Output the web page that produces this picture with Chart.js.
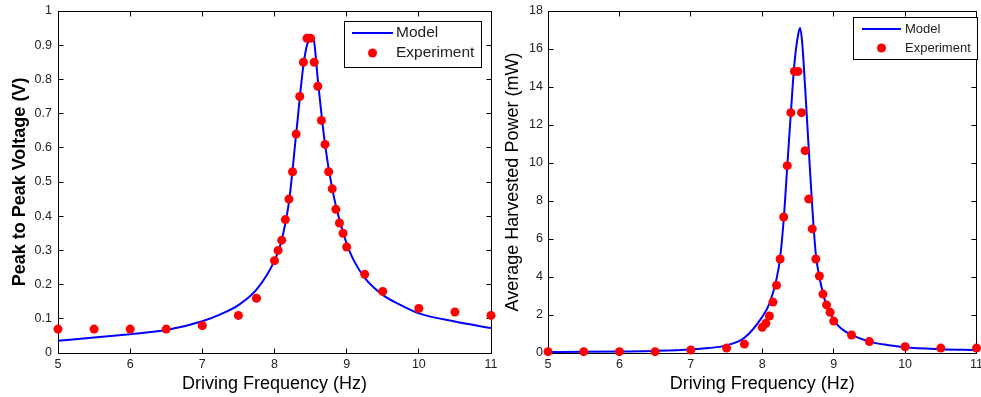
<!DOCTYPE html>
<html>
<head>
<meta charset="utf-8">
<script src="https://cdn.jsdelivr.net/npm/chart.js@4.4.1/dist/chart.umd.min.js"></script>
<style>
  html, body { margin: 0; padding: 0; background: #fff; }
  #wrap { position: relative; width: 981px; height: 397px; overflow: hidden; }
  canvas { position: absolute; top: 0; }
</style>
</head>
<body>
<div id="wrap">
  <canvas id="left" width="500" height="397" style="left:0"></canvas>
  <canvas id="right" width="485" height="397" style="left:496px"></canvas>
</div>
<script>
// --- data ---
const freqExp = [5, 5.5, 6, 6.5, 7, 7.5, 7.75, 8, 8.05, 8.1, 8.15, 8.2, 8.25, 8.3, 8.35, 8.4, 8.45, 8.5,
                 8.55, 8.6, 8.65, 8.7, 8.75, 8.8, 8.85, 8.9, 8.95, 9, 9.25, 9.5, 10, 10.5, 11];
const voltageExp = [0.07, 0.07, 0.07, 0.07, 0.08, 0.11, 0.16, 0.27, 0.30, 0.33, 0.39, 0.45, 0.53, 0.64, 0.75, 0.85, 0.92, 0.92,
                    0.85, 0.78, 0.68, 0.61, 0.53, 0.48, 0.42, 0.38, 0.35, 0.31, 0.23, 0.18, 0.13, 0.12, 0.11];
const powerExp = [0.07, 0.07, 0.07, 0.07, 0.16, 0.26, 0.47, 1.35, 1.56, 1.95, 2.68, 3.56, 4.95, 7.16, 9.86, 12.65, 14.82, 14.82,
                  12.65, 10.65, 8.1, 6.53, 4.95, 4.05, 3.1, 2.53, 2.14, 1.68, 0.95, 0.6, 0.33, 0.26, 0.26];

const freqModelV = [5, 5.5, 6, 6.5, 7, 7.25, 7.5, 7.75, 8, 8.1, 8.2, 8.3, 8.4, 8.45, 8.5, 8.52, 8.55, 8.6,
                    8.7, 8.8, 8.9, 9, 9.1, 9.25, 9.5, 9.75, 10, 10.5, 11];
const voltageModel = [0.036, 0.045, 0.055, 0.067, 0.093, 0.113, 0.14, 0.185, 0.27, 0.33, 0.44, 0.64, 0.84, 0.90, 0.92, 0.925, 0.91, 0.80,
                      0.61, 0.48, 0.39, 0.32, 0.27, 0.22, 0.17, 0.14, 0.116, 0.092, 0.073];

const freqModelP = [5, 5.5, 6, 6.5, 7, 7.25, 7.5, 7.75, 8, 8.1, 8.2, 8.25, 8.3, 8.35, 8.4, 8.45, 8.5, 8.53,
                    8.56, 8.6, 8.65, 8.7, 8.75, 8.8, 8.9, 9, 9.1, 9.25, 9.5, 9.75, 10, 10.5, 11];
const powerModel = [0.05, 0.06, 0.08, 0.11, 0.18, 0.26, 0.4, 0.8, 1.9, 2.6, 3.9, 5.0, 7.0, 9.8, 12.6, 15.2, 16.7, 17.1,
                    16.3, 14.0, 10.8, 7.7, 5.2, 4.0, 2.5, 1.75, 1.3, 0.95, 0.6, 0.42, 0.3, 0.2, 0.15];

const xTicks = [5, 6, 7, 8, 9, 10, 11];

const FONT = "'Liberation Sans', Arial, Helvetica, sans-serif";

function pairs(xs, ys) {
    return xs.map((x, i) => ({ x: x, y: ys[i] }));
}

// MATLAB style box with inward ticks
const framePlugin = {
    id: 'frame',
    beforeDatasetsDraw(chart) {
        const { ctx, chartArea: a, scales: { x, y } } = chart;
        const L = Math.floor(a.left) + 0.5, R = Math.floor(a.right) + 0.5;
        const T = Math.floor(a.top) + 0.5, B = Math.floor(a.bottom) + 0.5;
        ctx.save();
        ctx.strokeStyle = '#000';
        ctx.lineWidth = 1;
        ctx.strokeRect(L, T, R - L, B - T);
        ctx.beginPath();
        x.ticks.forEach(t => {
            const px = Math.floor(x.getPixelForValue(t.value)) + 0.5;
            ctx.moveTo(px, B); ctx.lineTo(px, B - 5);
            ctx.moveTo(px, T); ctx.lineTo(px, T + 5);
        });
        y.ticks.forEach(t => {
            const py = Math.floor(y.getPixelForValue(t.value)) + 0.5;
            ctx.moveTo(L, py); ctx.lineTo(L + 5, py);
            ctx.moveTo(R, py); ctx.lineTo(R - 5, py);
        });
        ctx.stroke();
        ctx.restore();
    }
};

// legend box inside the axes
const boxLegend = {
    id: 'boxLegend',
    afterDraw(chart, args, o) {
        const ctx = chart.ctx;
        ctx.save();
        ctx.fillStyle = '#fff';
        ctx.fillRect(o.x, o.y, o.w, o.h);
        ctx.strokeStyle = '#000';
        ctx.lineWidth = 1;
        ctx.strokeRect(o.x + 0.5, o.y + 0.5, o.w, o.h);
        ctx.strokeStyle = '#0000ff';
        ctx.lineWidth = 2;
        ctx.beginPath();
        ctx.moveTo(o.lineX0, o.row1);
        ctx.lineTo(o.lineX1, o.row1);
        ctx.stroke();
        ctx.fillStyle = '#ff0000';
        ctx.beginPath();
        ctx.arc((o.lineX0 + o.lineX1) / 2, o.row2, 4.5, 0, Math.PI * 2);
        ctx.fill();
        ctx.fillStyle = '#222';
        ctx.font = o.fontSize + 'px ' + FONT;
        ctx.textBaseline = 'middle';
        ctx.textAlign = 'left';
        ctx.fillText('Model', o.textX, o.row1);
        ctx.fillText('Experiment', o.textX, o.row2);
        ctx.restore();
    }
};

function makeChart(id, cfg) {
    const canvas = document.getElementById(id);
    return new Chart(canvas.getContext('2d'), {
        type: 'line',
        data: {
            datasets: [{
                label: 'Model',
                data: pairs(cfg.modelX, cfg.modelY),
                borderColor: '#0000ff',
                borderWidth: 2,
                pointRadius: 0,
                cubicInterpolationMode: 'monotone',
                fill: false,
                order: 2
            }, {
                label: 'Experiment',
                data: pairs(freqExp, cfg.expY),
                showLine: false,
                pointRadius: 4.5,
                pointBackgroundColor: '#ff0000',
                pointBorderColor: '#ff0000',
                pointBorderWidth: 0,
                clip: false,
                order: 1
            }]
        },
        options: {
            responsive: false,
            animation: false,
            events: [],
            layout: { padding: { top: 11, right: cfg.padRight, bottom: 0, left: 0 } },
            plugins: {
                legend: { display: false },
                tooltip: { enabled: false },
                boxLegend: cfg.legend
            },
            scales: {
                x: {
                    type: 'linear',
                    min: 5, max: 11,
                    afterBuildTicks: s => { s.ticks = xTicks.map(v => ({ value: v })); },
                    afterFit: s => { s.height = 44; s.paddingLeft = 0; s.paddingRight = 0; },
                    grid: { display: false, drawTicks: false },
                    border: { display: false },
                    ticks: { padding: 4, color: '#222', font: { family: FONT, size: 12.5 }, maxRotation: 0, autoSkip: false },
                    title: { display: true, text: 'Driving Frequency (Hz)', color: '#000',
                             font: { family: FONT, size: 18 }, padding: { top: 0, bottom: 2 } }
                },
                y: {
                    min: 0, max: cfg.yMax,
                    ticks: { stepSize: cfg.yStep, padding: cfg.tickPad, color: '#222',
                             font: { family: FONT, size: 12.5 }, autoSkip: false,
                             callback: v => String(Math.round(v * 10) / 10) },
                    afterFit: s => { s.width = cfg.yWidth; s.paddingTop = 0; s.paddingBottom = 0; },
                    grid: { display: false, drawTicks: false },
                    border: { display: false },
                    title: { display: true, text: cfg.yTitle, color: '#000',
                             font: { family: FONT, size: 18, weight: cfg.yBold ? 'bold' : 'normal' },
                             padding: { top: cfg.titlePad, bottom: 0 } }
                }
            }
        },
        plugins: [framePlugin, boxLegend]
    });
}

makeChart('left', {
    modelX: freqModelV, modelY: voltageModel, expY: voltageExp,
    yMax: 1, yStep: 0.1, yWidth: 58, padRight: 9, tickPad: 6, titlePad: 9, yBold: true,
    yTitle: 'Peak to Peak Voltage (V)',
    legend: { x: 344, y: 21, w: 137, h: 46, lineX0: 352, lineX1: 393, textX: 396, row1: 33, row2: 53, fontSize: 15.5 }
});

makeChart('right', {
    modelX: freqModelP, modelY: powerModel, expY: powerExp,
    yMax: 18, yStep: 2, yWidth: 52, padRight: 1, tickPad: 5, titlePad: 6, yBold: false,
    yTitle: 'Average Harvested Power (mW)',
    legend: { x: 357, y: 17, w: 124, h: 42, lineX0: 366, lineX1: 405, textX: 409, row1: 29, row2: 48, fontSize: 13 }
});
</script>
</body>
</html>
